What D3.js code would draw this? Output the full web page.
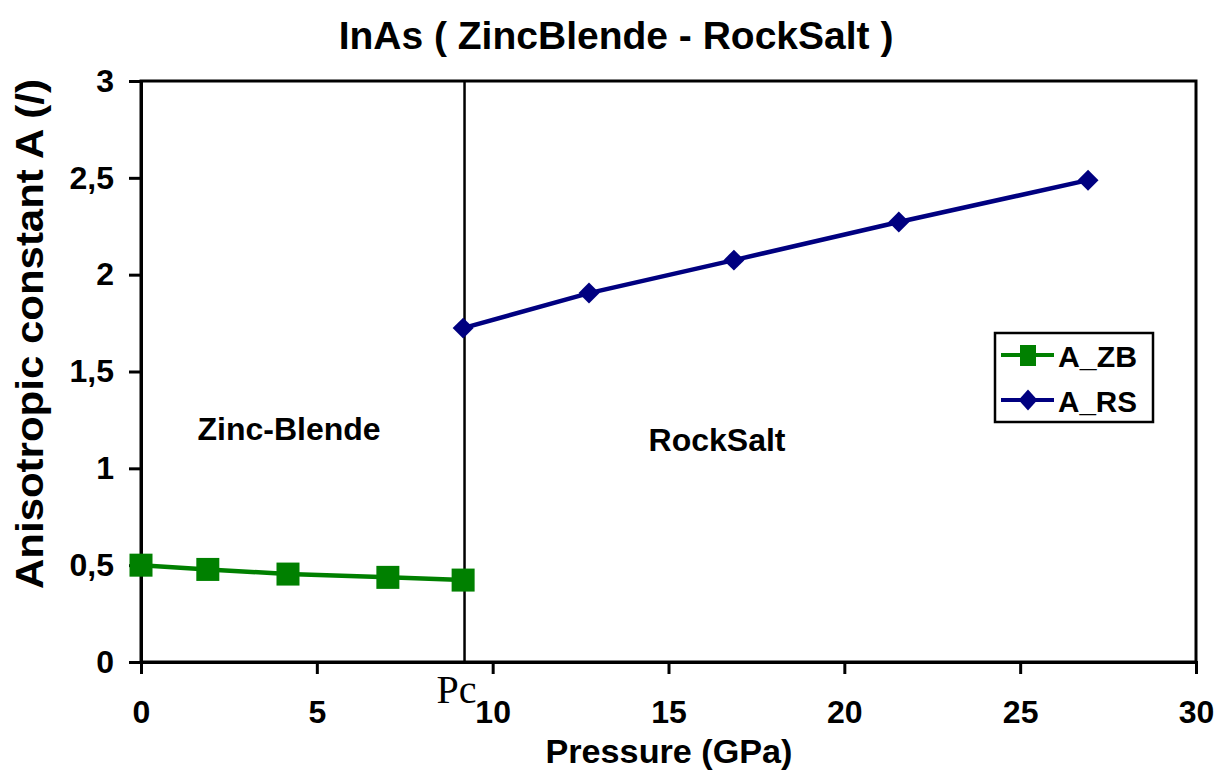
<!DOCTYPE html>
<html>
<head>
<meta charset="utf-8">
<script src="https://cdn.jsdelivr.net/npm/d3@7"></script>
<style>
body { margin: 0; background: #fff; }
text { font-family: Arial, "Liberation Sans", sans-serif; }
</style>
</head>
<body>
<svg id="chart" width="1229" height="783"></svg>
<script>
'use strict';

// data
const zbPressure = [0, 1.9, 4.18, 7.02, 9.16];
const zbA = [0.50, 0.478, 0.454, 0.437, 0.423];
const rsPressure = [9.16, 12.74, 16.86, 21.55, 26.93];
const rsA = [1.724, 1.905, 2.075, 2.272, 2.488];
const xTicks = [0, 5, 10, 15, 20, 25, 30];
const yTicks = [0, 0.5, 1, 1.5, 2, 2.5, 3];
const pc = 9.2;

const svg = d3.select('#chart');
const margin = {left: 141, right: 33, top: 81, bottom: 121};
const W = 1229, H = 783;

const x = d3.scaleLinear().domain([0, 30]).range([margin.left, W - margin.right]);
const y = d3.scaleLinear().domain([0, 3]).range([H - margin.bottom, margin.top]);

// plot frame (top and right lines)
svg.append('rect')
    .attr('x', x(0)).attr('y', y(3))
    .attr('width', x(30) - x(0)).attr('height', y(0) - y(3))
    .attr('fill', 'none').attr('stroke', '#000').attr('stroke-width', 3);

function fmt(d) { return String(d).replace('.', ','); }

const xAxis = svg.append('g')
    .attr('transform', 'translate(0,' + y(0) + ')')
    .call(d3.axisBottom(x).tickValues(xTicks).tickSize(12).tickPadding(26).tickFormat(fmt));
const yAxis = svg.append('g')
    .attr('transform', 'translate(' + x(0) + ',0)')
    .call(d3.axisLeft(y).tickValues(yTicks).tickSize(12).tickPadding(15).tickFormat(fmt));

[xAxis, yAxis].forEach(function(a) {
    a.attr('font-size', 32);
    a.select('.domain').attr('stroke-width', 3);
    a.selectAll('.tick line').attr('stroke-width', 3);
    a.selectAll('.tick text')
        .style('font-size', '32px').style('font-weight', 'bold')
        .attr('fill', '#000');
});

// transition pressure line
svg.append('line')
    .attr('x1', x(pc)).attr('x2', x(pc))
    .attr('y1', y(3)).attr('y2', y(0))
    .attr('stroke', '#000').attr('stroke-width', 2.5);

svg.append('text')
    .attr('x', x(pc) - 8).attr('y', 703)
    .attr('text-anchor', 'middle')
    .style('font-family', '"Liberation Serif", "Times New Roman", serif')
    .attr('font-size', 40)
    .text('Pc');

const line = d3.line().x(function(d) { return x(d[0]); }).y(function(d) { return y(d[1]); });

const zb = zbPressure.map(function(p, i) { return [p, zbA[i]]; });
const rs = rsPressure.map(function(p, i) { return [p, rsA[i]]; });

const green = '#008000', navy = '#000080';

svg.append('path').datum(zb).attr('d', line)
    .attr('fill', 'none').attr('stroke', green).attr('stroke-width', 4.5);
svg.append('path').datum(rs).attr('d', line)
    .attr('fill', 'none').attr('stroke', navy).attr('stroke-width', 4.5);

svg.selectAll('rect.zb').data(zb).enter().append('rect')
    .attr('class', 'zb')
    .attr('x', function(d) { return x(d[0]) - 11.5; })
    .attr('y', function(d) { return y(d[1]) - 11.5; })
    .attr('width', 23).attr('height', 23)
    .attr('fill', green);

const diamond = d3.symbol().type(d3.symbolDiamond2).size(280);
svg.selectAll('path.rs').data(rs).enter().append('path')
    .attr('class', 'rs')
    .attr('transform', function(d) { return 'translate(' + x(d[0]) + ',' + y(d[1]) + ')'; })
    .attr('d', diamond)
    .attr('fill', navy);

// legend
const lg = svg.append('g').attr('transform', 'translate(995,333)');
lg.append('rect').attr('width', 158).attr('height', 89)
    .attr('fill', '#fff').attr('stroke', '#000').attr('stroke-width', 2.5);
lg.append('line').attr('x1', 6).attr('x2', 59).attr('y1', 22).attr('y2', 22)
    .attr('stroke', green).attr('stroke-width', 4);
lg.append('rect').attr('x', 25).attr('y', 12).attr('width', 16).attr('height', 21).attr('fill', green);
lg.append('line').attr('x1', 6).attr('x2', 59).attr('y1', 67).attr('y2', 67)
    .attr('stroke', navy).attr('stroke-width', 4);
lg.append('path').attr('transform', 'translate(33,67) scale(0.9,1)').attr('d', diamond).attr('fill', navy);
lg.append('text').attr('x', 63).attr('y', 34).attr('font-size', 29).attr('font-weight', 'bold')
    .attr('textLength', 79).attr('lengthAdjust', 'spacingAndGlyphs').text('A_ZB');
lg.append('text').attr('x', 63).attr('y', 79).attr('font-size', 29).attr('font-weight', 'bold')
    .attr('textLength', 79).attr('lengthAdjust', 'spacingAndGlyphs').text('A_RS');

// region labels
svg.append('text').attr('x', 289).attr('y', 440).attr('text-anchor', 'middle')
    .attr('font-size', 32).attr('font-weight', 'bold').text('Zinc-Blende');
svg.append('text').attr('x', 717).attr('y', 451).attr('text-anchor', 'middle')
    .attr('font-size', 32).attr('font-weight', 'bold').text('RockSalt');

// title and axis titles
svg.append('text').attr('x', 616).attr('y', 49).attr('text-anchor', 'middle')
    .attr('font-size', 39).attr('font-weight', 'bold').text('InAs ( ZincBlende - RockSalt )');
svg.append('text').attr('x', 669).attr('y', 763).attr('text-anchor', 'middle')
    .attr('font-size', 33).attr('font-weight', 'bold')
    .attr('textLength', 247).attr('lengthAdjust', 'spacingAndGlyphs')
    .text('Pressure (GPa)');
svg.append('text')
    .attr('transform', 'translate(43,334) rotate(-90)')
    .attr('text-anchor', 'middle')
    .attr('font-size', 38).attr('font-weight', 'bold')
    .attr('textLength', 510).attr('lengthAdjust', 'spacingAndGlyphs')
    .text('Anisotropic constant A (/)');
</script>
</body>
</html>
